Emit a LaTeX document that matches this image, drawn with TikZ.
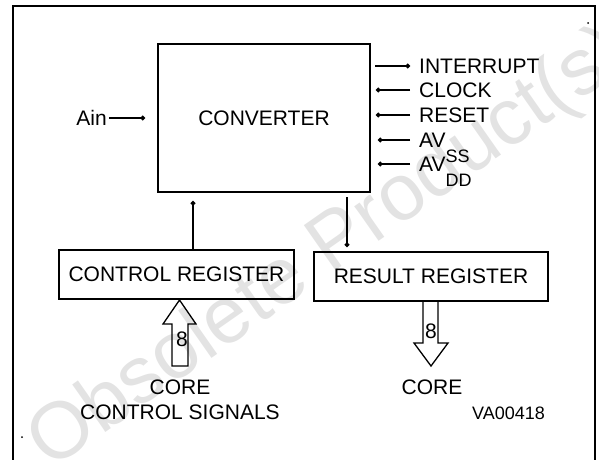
\documentclass[tikz,border=0pt]{standalone}
\usepackage{fontspec}
\setmainfont{Liberation Sans}
\usetikzlibrary{arrows.meta, positioning}

\begin{document}
\begin{tikzpicture}[
    x=1pt, y=-1pt,
    every node/.style={font=\fontsize{21}{25}\selectfont, inner sep=0pt},
    block/.style={draw, line width=1.6pt, align=center},
    sig/.style={-{Circle[length=4.5pt]}, line width=1.3pt},
    bus/.style={line width=1.3pt, line join=miter},
    frame/.style={line width=1.6pt},
    pin/.style={anchor=west, inner xsep=9pt}
]
\useasboundingbox (0,0) rectangle (599,459);

% watermark
\node (wm) [font=\fontsize{80}{80}\selectfont, text=gray!22, rotate=35] at (330,250) {Obsolete Product(s)};

% frame
\draw[frame] (13,470) -- (13,6) -- (595,6) -- (595,470);
\fill (588,23) circle (1pt);
\fill (22,437) circle (1pt);

% blocks
\node (conv) [block, minimum width=212pt, minimum height=148pt] at (264,118) {CONVERTER};
\node (ctrl) [block, minimum width=235pt, minimum height=49pt] at (176.5,274.5) {CONTROL REGISTER};
\node (res) [block, minimum width=234pt, minimum height=49pt] at (431,276.5) {RESULT REGISTER};

% analog input
\node (ain) [anchor=east, inner xsep=2pt] at (109,118) {Ain};
\coordinate (ainend) at (145,118);
\draw[sig] (ain.east) -- (ainend);

% pins on the right
\node (intr) [pin] at (410,66) {INTERRUPT};
\node (clk) [pin] at (410,90) {CLOCK};
\node (rst) [pin] at (410,115) {RESET};
\node (avss) [pin] at (410,140) {AV\smash{\raisebox{-15pt}{\fontsize{18}{18}\selectfont SS}}};
\node (avdd) [pin] at (410,164) {AV\smash{\raisebox{-15pt}{\fontsize{18}{18}\selectfont DD}}};
\coordinate (intrA) at (375,66);
\coordinate (clkA) at (376,90);
\coordinate (rstA) at (376,115);
\coordinate (avssA) at (378,140);
\coordinate (avddA) at (378,164);
\draw[sig] (intrA) -- (intr.west);
\draw[sig] (clk.west) -- (clkA);
\draw[sig] (rst.west) -- (rstA);
\draw[sig] (avss.west) -- (avssA);
\draw[sig] (avdd.west) -- (avddA);

% internal links
\coordinate (ctrlup) at (193,201);
\coordinate (convout) at (347,197);
\coordinate (resin) at (347,247);
\draw[sig] (ctrl.north -| ctrlup) -- (ctrlup);
\draw[sig] (convout) -- (resin);

% 8-bit buses
\draw[bus] (172,366) -- (172,324) -- (163,324) -- (179.5,300) -- (196,324) -- (188,324) -- (188,366) -- cycle;
\draw[bus] (423,301) -- (423,343) -- (414,343) -- (431,366) -- (448,343) -- (438,343) -- (438,301);
\node (inw) at (182,339) {8};
\node (outw) at (431,331) {8};

% bus ends
\node (ccs) [align=center] at (180,399.5) {CORE\\CONTROL SIGNALS};
\node (core) at (432,387) {CORE};
\node (ref) [anchor=west, font=\fontsize{18}{20}\selectfont] at (472,413) {VA00418};
\end{tikzpicture}
\end{document}
